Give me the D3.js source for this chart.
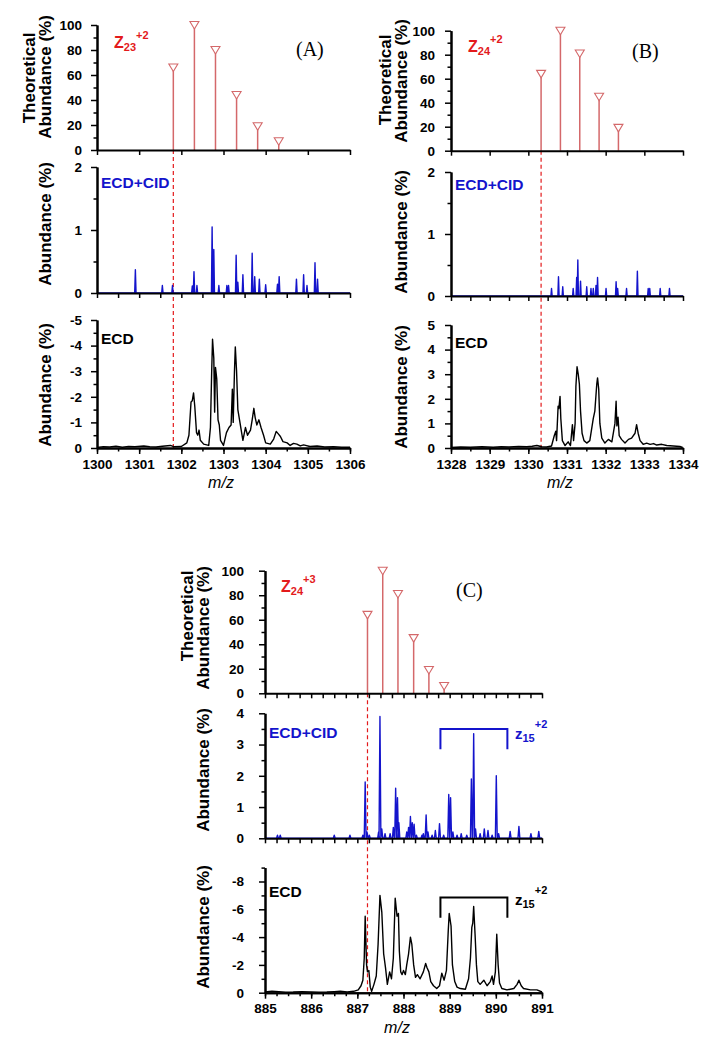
<!DOCTYPE html>
<html><head><meta charset="utf-8">
<script src="https://cdn.jsdelivr.net/npm/d3@7"></script>
<style>
body{margin:0;background:#fff}
text{font-family:"Liberation Sans",Arial,sans-serif}
text.serif{font-family:"Liberation Serif","Times New Roman",serif}
.ax .domain{stroke:#000;stroke-width:2}
.ax line{stroke:#000;stroke-width:1.5}
.ax text{font-size:13.5px;font-weight:bold;fill:#000;font-family:"Liberation Sans",Arial,sans-serif}
</style>
</head><body>
<svg id="c" width="717" height="1050"></svg>
<script>
// ---------------- DATA ----------------
const theoTicks = [0, 20, 40, 60, 80, 100];

// Panel A : z23 +2
const aXTicks = [1300, 1301, 1302, 1303, 1304, 1305, 1306];
const aTheoMz = [1301.81, 1302.31, 1302.81, 1303.31, 1303.81, 1304.31];
const aTheoAb = [66, 100, 80, 44, 19, 7];
const aCidTicks = [0, 1, 2];
const aEcdTicks = [0, 1, 2, 3, 4, 5];
const aCid = [[1300.91,0.37],[1301.55,0.12],[1301.79,0.12],[1302.26,0.11],[1302.30,0.34],[1302.37,0.12],[1302.73,1.05],[1302.77,0.69],[1302.89,0.12],[1303.08,0.12],[1303.12,0.12],[1303.30,0.60],[1303.34,0.17],[1303.46,0.29],[1303.68,0.63],[1303.74,0.26],[1303.85,0.22],[1304.00,0.13],[1304.28,0.14],[1304.32,0.26],[1304.73,0.22],[1304.90,0.29],[1304.98,0.12],[1305.17,0.48],[1305.23,0.22]];
const aEcd = [[1300.00,0.02],[1300.15,0.05],[1300.30,0.04],[1300.45,0.07],[1300.60,0.03],[1300.75,0.06],[1300.90,0.05],[1301.11,0.08],[1301.25,0.05],[1301.40,0.04],[1301.55,0.07],[1301.74,0.10],[1301.82,0.05],[1302.00,0.06],[1302.13,0.20],[1302.18,0.50],[1302.23,1.80],[1302.26,1.85],[1302.29,2.15],[1302.32,1.60],[1302.36,0.60],[1302.39,0.50],[1302.42,0.70],[1302.45,0.30],[1302.53,0.15],[1302.65,0.10],[1302.69,0.80],[1302.72,3.00],[1302.74,4.25],[1302.77,3.50],[1302.79,1.40],[1302.81,3.15],[1302.84,2.70],[1302.87,1.10],[1302.90,0.90],[1302.93,0.30],[1303.00,0.10],[1303.07,0.60],[1303.13,0.80],[1303.18,0.90],[1303.21,2.30],[1303.23,1.00],[1303.26,3.00],[1303.28,3.95],[1303.31,3.00],[1303.34,1.50],[1303.38,1.10],[1303.42,0.70],[1303.46,0.30],[1303.52,0.80],[1303.57,0.50],[1303.64,0.70],[1303.68,1.10],[1303.72,1.55],[1303.75,1.20],[1303.79,0.90],[1303.84,1.10],[1303.89,0.80],[1303.95,0.50],[1304.00,0.20],[1304.11,0.15],[1304.19,0.35],[1304.25,0.65],[1304.30,0.55],[1304.35,0.45],[1304.41,0.25],[1304.51,0.20],[1304.58,0.10],[1304.66,0.18],[1304.74,0.15],[1304.82,0.08],[1304.90,0.12],[1305.05,0.06],[1305.22,0.08],[1305.40,0.04],[1305.61,0.05],[1305.80,0.03],[1306.00,0.03]];

// Panel B : z24 +2
const bXTicks = [1328, 1329, 1330, 1331, 1332, 1333, 1334];
const bTheoMz = [1330.33, 1330.83, 1331.33, 1331.83, 1332.33];
const bTheoAb = [64, 100, 81, 45, 19];
const bCidTicks = [0, 1, 2];
const bEcdTicks = [0, 1, 2, 3, 4, 5];
const bCid = [[1330.60,0.12],[1330.78,0.31],[1330.89,0.15],[1331.16,0.12],[1331.25,0.30],[1331.28,0.58],[1331.35,0.24],[1331.51,0.15],[1331.62,0.12],[1331.68,0.12],[1331.75,0.17],[1331.79,0.30],[1332.01,0.12],[1332.27,0.23],[1332.31,0.12],[1332.54,0.12],[1332.82,0.40],[1333.10,0.12],[1333.14,0.12],[1333.41,0.12],[1333.65,0.12]];
const bEcd = [[1328.00,0.02],[1328.25,0.04],[1328.50,0.03],[1328.80,0.05],[1329.09,0.03],[1329.30,0.05],[1329.50,0.04],[1329.75,0.06],[1329.96,0.05],[1330.10,0.07],[1330.22,0.10],[1330.35,0.05],[1330.47,0.04],[1330.60,0.08],[1330.67,0.50],[1330.71,0.68],[1330.73,0.30],[1330.77,1.70],[1330.79,1.60],[1330.82,2.10],[1330.84,1.20],[1330.88,0.30],[1330.95,0.10],[1331.03,0.25],[1331.09,0.10],[1331.14,0.95],[1331.17,0.30],[1331.21,1.00],[1331.23,2.50],[1331.26,3.30],[1331.29,3.00],[1331.32,2.60],[1331.35,1.50],[1331.39,0.60],[1331.44,0.30],[1331.51,0.20],[1331.59,0.30],[1331.68,1.20],[1331.72,1.50],[1331.77,2.60],[1331.79,2.85],[1331.82,2.40],[1331.85,1.00],[1331.90,0.40],[1331.98,0.20],[1332.07,0.35],[1332.16,0.25],[1332.24,1.00],[1332.27,1.90],[1332.29,0.90],[1332.32,1.25],[1332.35,0.50],[1332.41,0.35],[1332.50,0.20],[1332.59,0.35],[1332.67,0.40],[1332.76,0.60],[1332.80,0.95],[1332.84,0.60],[1332.89,0.30],[1332.97,0.15],[1333.06,0.20],[1333.15,0.15],[1333.24,0.18],[1333.32,0.12],[1333.45,0.15],[1333.58,0.10],[1333.75,0.08],[1333.92,0.06],[1333.99,0.02]];

// Panel C : z24 +3
const cXTicks = [885, 886, 887, 888, 889, 890, 891];
const cTheoMz = [887.22, 887.55, 887.88, 888.22, 888.55, 888.88];
const cTheoAb = [64, 100, 81, 45, 19, 6];
const cCidTicks = [0, 1, 2, 3, 4];
const cEcdTicks = [0, 2, 4, 6, 8];
const cCid = [[885.27,0.1],[885.33,0.1],[886.50,0.1],[886.84,0.1],[887.12,0.1],[887.17,1.8],[887.21,0.2],[887.26,0.1],[887.46,0.2],[887.49,3.9],[887.53,0.3],[887.60,0.15],[887.71,0.15],[887.78,0.35],[887.83,1.6],[887.87,1.3],[887.90,0.5],[888.07,0.2],[888.11,0.35],[888.15,0.7],[888.19,0.5],[888.23,0.45],[888.28,0.1],[888.40,0.1],[888.43,0.15],[888.49,0.75],[888.53,0.2],[888.62,0.1],[888.69,0.25],[888.78,0.47],[888.87,0.1],[888.98,1.4],[889.02,1.3],[889.07,0.2],[889.16,0.1],[889.25,0.15],[889.37,0.1],[889.47,1.9],[889.52,3.35],[889.56,0.3],[889.66,0.15],[889.75,0.3],[889.83,0.25],[889.92,0.1],[890.01,2.0],[890.06,0.15],[890.31,0.22],[890.50,0.38],[890.76,0.15],[890.93,0.22]];
const cEcd = [[885.00,0.05],[885.15,0.10],[885.30,0.08],[885.45,0.04],[885.61,0.05],[885.80,0.08],[886.00,0.06],[886.17,0.04],[886.34,0.05],[886.50,0.08],[886.63,0.10],[886.78,0.06],[886.92,0.10],[887.02,0.20],[887.08,0.50],[887.12,0.90],[887.15,2.50],[887.17,5.50],[887.20,2.00],[887.22,1.50],[887.25,1.60],[887.28,0.40],[887.31,0.10],[887.36,0.60],[887.41,1.20],[887.45,3.50],[887.49,7.00],[887.53,5.80],[887.57,2.80],[887.61,1.80],[887.65,0.60],[887.70,1.50],[887.74,1.00],[887.78,2.50],[887.82,6.80],[887.86,5.50],[887.89,5.70],[887.91,3.00],[887.94,1.50],[887.97,1.30],[888.00,1.60],[888.04,1.30],[888.07,2.00],[888.11,2.80],[888.15,4.00],[888.18,3.50],[888.22,2.00],[888.26,1.10],[888.30,1.30],[888.36,1.00],[888.43,1.50],[888.48,2.10],[888.51,1.80],[888.55,1.50],[888.59,0.80],[888.65,0.50],[888.72,0.30],[888.78,0.50],[888.83,1.40],[888.88,0.90],[888.93,1.60],[888.97,4.50],[888.99,5.70],[889.03,4.80],[889.06,2.00],[889.11,0.80],[889.16,0.40],[889.23,0.30],[889.34,0.25],[889.41,1.00],[889.45,2.50],[889.48,4.70],[889.50,5.00],[889.52,6.20],[889.55,4.20],[889.58,2.00],[889.61,0.80],[889.66,0.60],[889.74,0.90],[889.81,0.50],[889.88,0.80],[889.92,1.20],[889.95,0.60],[889.99,1.50],[890.02,4.20],[890.05,2.00],[890.08,0.70],[890.13,0.30],[890.24,0.20],[890.39,0.30],[890.46,0.60],[890.50,0.90],[890.55,0.50],[890.60,0.30],[890.75,0.20],[890.89,0.20],[891.00,0.05]];
const cBracketMz = [888.8, 890.25];
const cCidBracketAb = [3.5, 2.85];
const cEcdBracketAb = [6.85, 5.4];

// ---------------- DRAW ----------------
const svg = d3.select("#c");
const RED = "#e31a1c", THEO = "#d4686a", BLUE = "#1414cc";

function stickLine(peaks, x, y, w, dom) {
  const pts = [[dom[0], 0]];
  peaks.slice().sort((a, b) => a[0] - b[0]).forEach(([m, h]) => {
    pts.push([m - w, 0], [m, h], [m + w, 0]);
  });
  pts.push([dom[1], 0]);
  return d3.line().x(d => x(d[0])).y(d => y(d[1]))(pts);
}

function rotTitle(x, cy, txt) {
  svg.append("text").attr("transform", `translate(${x},${cy}) rotate(-90)`)
    .attr("text-anchor", "middle").attr("font-size", 17).attr("font-weight", "bold").text(txt);
}

function ionLabel(x, y, main, sub, sup, color, fs, subDy, supDy) {
  const t = svg.append("text").attr("x", x).attr("y", y).attr("fill", color)
    .attr("font-weight", "bold").attr("font-size", fs);
  t.append("tspan").text(main);
  t.append("tspan").attr("font-size", 11).attr("dy", subDy).text(sub);
  t.append("tspan").attr("font-size", 11).attr("dy", supDy).text(sup);
}

function panel(p) {
  const dom = [p.xTicks[0], p.xTicks[p.xTicks.length - 1]];
  const x = d3.scaleLinear().domain(dom).range([p.x0, p.x1]);
  const yT = d3.scaleLinear().domain([0, 100]).range(p.theoR);
  const yC = d3.scaleLinear().domain([0, p.cidTicks[p.cidTicks.length - 1]]).range(p.cidR);
  const yE = d3.scaleLinear().domain([0, p.ecdMax]).range(p.ecdR);

  // dashed reference line
  svg.append("line").attr("x1", x(p.theoMz[0])).attr("x2", x(p.theoMz[0]))
    .attr("y1", p.theoR[0]).attr("y2", p.ecdR[0])
    .attr("stroke", RED).attr("stroke-width", 1.2).attr("stroke-dasharray", "4,3");

  // theoretical sticks
  const td = p.theoMz.map((m, i) => [m, p.theoAb[i]]);
  svg.append("g").selectAll("line").data(td).join("line")
    .attr("x1", d => x(d[0])).attr("x2", d => x(d[0]))
    .attr("y1", yT(0)).attr("y2", d => yT(d[1]))
    .attr("stroke", THEO).attr("stroke-width", 1.5);
  svg.append("g").selectAll("path").data(td).join("path")
    .attr("transform", d => `translate(${x(d[0])},${yT(d[1])})`)
    .attr("d", "M-4.5,-3.5L4.5,-3.5L0,4Z")
    .attr("fill", "#fff").attr("stroke", THEO).attr("stroke-width", 1.1);

  // CID spectrum
  svg.append("path").attr("d", stickLine(p.cid, x, yC, p.stickW, dom))
    .attr("fill", "none").attr("stroke", BLUE).attr("stroke-width", 1.4).attr("stroke-linejoin", "round");
  // ECD spectrum
  svg.append("path").attr("d", d3.line().x(d => x(d[0])).y(d => yE(d[1]))(p.ecd))
    .attr("fill", "none").attr("stroke", "#000").attr("stroke-width", 1.4).attr("stroke-linejoin", "round");

  // axes
  const fmtInt = d3.format("d");
  const minorX = d3.range(dom[0], dom[1] + 1e-9, p.minorStep);
  // theo
  svg.append("g").attr("class", "ax").attr("transform", `translate(0,${p.theoR[0]})`)
    .call(d3.axisBottom(x).tickValues(p.theoXStep ? d3.range(dom[0], dom[1] + 1e-9, p.theoXStep) : p.xTicks).tickSize(5).tickSizeOuter(0).tickFormat(""));
  svg.append("g").attr("class", "ax").attr("transform", `translate(${p.x0},0)`)
    .call(d3.axisLeft(yT).tickValues(d3.range(10, 100, 20)).tickSize(3.5).tickSizeOuter(0).tickFormat(""));
  svg.append("g").attr("class", "ax").attr("transform", `translate(${p.x0},0)`)
    .call(d3.axisLeft(yT).tickValues(theoTicks).tickSize(6).tickSizeOuter(0).tickPadding(p.lblPad - 6).tickFormat(fmtInt));
  // cid
  svg.append("g").attr("class", "ax").attr("transform", `translate(0,${p.cidR[0]})`)
    .call(d3.axisBottom(x).tickValues(minorX).tickSize(5).tickSizeOuter(0).tickFormat(""));
  svg.append("g").attr("class", "ax").attr("transform", `translate(${p.x0},0)`)
    .call(d3.axisLeft(yC).tickValues(d3.range(0.5, yC.domain()[1], 1)).tickSize(3.5).tickSizeOuter(0).tickFormat(""));
  svg.append("g").attr("class", "ax").attr("transform", `translate(${p.x0},0)`)
    .call(d3.axisLeft(yC).tickValues(p.cidTicks).tickSize(6).tickSizeOuter(0).tickPadding(p.lblPad - 6).tickFormat(fmtInt));
  // ecd
  svg.append("g").attr("class", "ax").attr("transform", `translate(0,${p.ecdR[0]})`)
    .call(d3.axisBottom(x).tickValues(minorX).tickSize(3.5).tickSizeOuter(0).tickFormat(""));
  svg.append("g").attr("class", "ax").attr("transform", `translate(0,${p.ecdR[0]})`)
    .call(d3.axisBottom(x).tickValues(p.xTicks).tickSize(6).tickSizeOuter(0).tickPadding(5).tickFormat(fmtInt));
  svg.append("g").attr("class", "ax").attr("transform", `translate(${p.x0},0)`)
    .call(d3.axisLeft(yE).tickValues(d3.range(p.ecdMinor, p.ecdMax + 1e-9, p.ecdMinorStep)).tickSize(3.5).tickSizeOuter(0).tickFormat(""));
  svg.append("g").attr("class", "ax").attr("transform", `translate(${p.x0},0)`)
    .call(d3.axisLeft(yE).tickValues(p.ecdTicks).tickSize(6).tickSizeOuter(0).tickPadding(p.lblPad - 6)
      .tickFormat(d => d === 0 ? "0" : (p.neg ? "-" + d : String(d))));

  // titles
  rotTitle(p.t1x, p.tc[0], "Theoretical");
  rotTitle(p.t2x, p.tc[1], "Abundance (%)");
  rotTitle(p.t2x, p.tc[2], "Abundance (%)");
  rotTitle(p.t2x, p.tc[3], "Abundance (%)");
  svg.append("text").attr("x", p.mzx).attr("y", p.ecdR[0] + 40).attr("text-anchor", "middle")
    .attr("font-size", 16).attr("font-style", "italic").text("m/z");

  // labels
  svg.append("text").attr("class", "serif").attr("x", p.letter[0]).attr("y", p.letter[1])
    .attr("font-size", 20).text(p.letter[2]);
  svg.append("text").attr("x", p.x0 + 4).attr("y", p.cidLblY).attr("fill", BLUE)
    .attr("font-weight", "bold").attr("font-size", 15.5).text("ECD+CID");
  svg.append("text").attr("x", p.x0 + 4).attr("y", p.ecdLblY)
    .attr("font-weight", "bold").attr("font-size", 15.5).text("ECD");
  ionLabel(p.ion[0], p.ion[1], "Z", p.ion[2], p.ion[3], RED, 16, 3, -12);

  return { x, yC, yE };
}

panel({ xTicks: aXTicks, x0: 97, x1: 350, theoR: [150, 25], cidR: [293, 167], ecdR: [448, 320],
  theoMz: aTheoMz, theoAb: aTheoAb, cid: aCid, ecd: aEcd, cidTicks: aCidTicks, ecdTicks: aEcdTicks,
  ecdMax: 5, ecdMinor: 0.5, ecdMinorStep: 1, neg: true, stickW: 0.016, minorStep: 0.5,
  lblPad: 15, t1x: 35, t2x: 51, tc: [78, 77, 224, 385], mzx: 221,
  letter: [296, 56, "(A)"], cidLblY: 188, ecdLblY: 344, ion: [114, 48, "23", "+2"] });

panel({ xTicks: bXTicks, x0: 451, x1: 683, theoR: [150.7, 30.7], cidR: [296, 172], ecdR: [448, 325],
  theoMz: bTheoMz, theoAb: bTheoAb, cid: bCid, ecd: bEcd, cidTicks: bCidTicks, ecdTicks: bEcdTicks,
  ecdMax: 5, ecdMinor: 0.5, ecdMinorStep: 1, neg: false, stickW: 0.016, minorStep: 0.5,
  lblPad: 16, t1x: 391, t2x: 407, tc: [80, 81, 232, 387], mzx: 560,
  letter: [632, 58, "(B)"], cidLblY: 190, ecdLblY: 348, ion: [468, 52, "24", "+2"] });

const pc = panel({ xTicks: cXTicks, x0: 265, x1: 542, theoR: [693.3, 570.7], cidR: [838.3, 713.3], ecdR: [992.7, 867.6],
  theoMz: cTheoMz, theoAb: cTheoAb, cid: cCid, ecd: cEcd, cidTicks: cCidTicks, ecdTicks: cEcdTicks,
  ecdMax: 9, ecdMinor: 1, ecdMinorStep: 2, neg: true, stickW: 0.02, minorStep: 0.25, theoXStep: 0.25,
  lblPad: 21, t1x: 193, t2x: 209, tc: [616, 628, 770, 927], mzx: 397,
  letter: [456, 597, "(C)"], cidLblY: 738, ecdLblY: 897, ion: [281, 592, "24", "+3"] });

// z15 +2 brackets in panel C
function bracket(y, ab, color, lx, ly) {
  const b = [[cBracketMz[0], ab[1]], [cBracketMz[0], ab[0]], [cBracketMz[1], ab[0]], [cBracketMz[1], ab[1]]];
  svg.append("path").attr("d", d3.line().x(d => pc.x(d[0])).y(d => y(d[1]))(b))
    .attr("fill", "none").attr("stroke", color).attr("stroke-width", 2);
  const t = svg.append("text").attr("x", lx).attr("y", ly).attr("fill", color).attr("font-weight", "bold").attr("font-size", 15);
  t.append("tspan").text("z");
  t.append("tspan").attr("font-size", 11).attr("dy", 3).text("15");
  t.append("tspan").attr("font-size", 11).attr("dy", -14).text("+2");
}
bracket(pc.yC, cCidBracketAb, BLUE, 515, 739);
bracket(pc.yE, cEcdBracketAb, "#000", 515, 905);
</script>
</body></html>
